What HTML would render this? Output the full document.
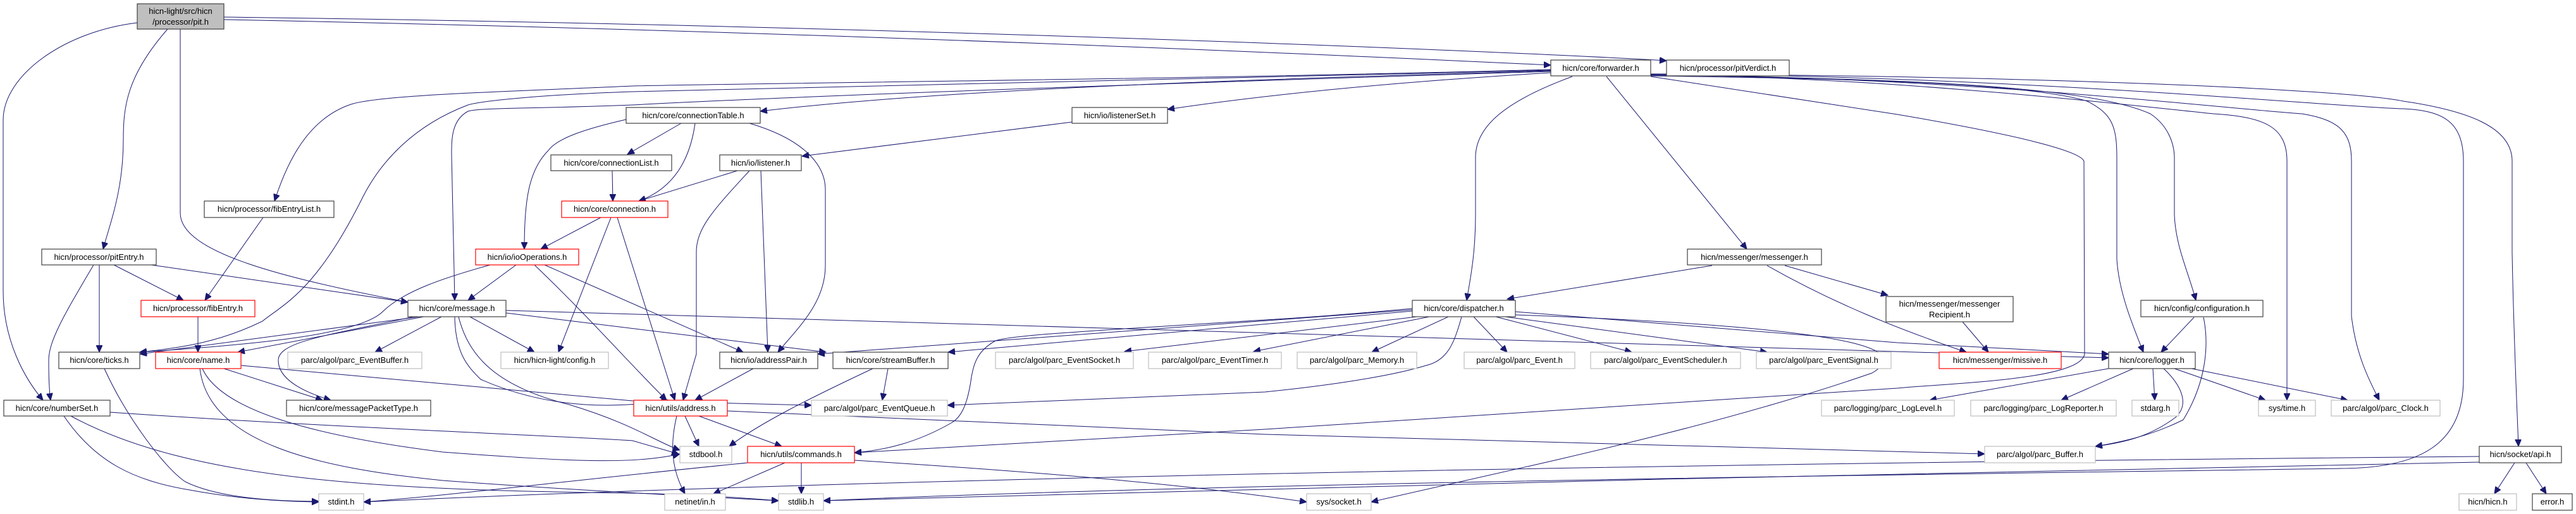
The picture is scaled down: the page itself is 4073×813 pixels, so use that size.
<!DOCTYPE html>
<html><head><meta charset="utf-8"><style>
html,body{margin:0;padding:0;background:#fff;}
svg{display:block;}
text{font-family:"Liberation Sans","DejaVu Sans",sans-serif;font-size:13px;fill:#000;}
.b{fill:#fff;stroke:#404040;stroke-width:1.2;}
.r{fill:#fff;stroke:#ff0000;stroke-width:1.2;}
.g{fill:#fff;stroke:#bfbfbf;stroke-width:1.2;}
.p{fill:#bfbfbf;stroke:#404040;stroke-width:1.2;}
path{fill:none;stroke:#191970;stroke-width:1;}
</style></head><body>
<svg width="4073" height="813" viewBox="0 0 4073 813" xmlns="http://www.w3.org/2000/svg">
<defs><marker id="a" markerUnits="userSpaceOnUse" markerWidth="12" markerHeight="10" refX="11" refY="5" orient="auto"><path d="M0,0 L11,5 L0,10 Z" style="fill:#191970;stroke:#191970"/></marker></defs>
<g marker-end="url(#a)">
<!-- pit.h -->
<path d="M354,27 C1400,40 2400,82 2635,96"/>
<path d="M354,31 C1400,52 2300,96 2452,103"/>
<path d="M265,46 C200,120 195,170 195,220 C195,300 175,350 163,394"/>
<path d="M285,46 L285,337 C285,400 450,440 645,478"/>
<path d="M217,36 C100,50 5,120 5,190 L5,460 C5,540 40,600 68,633"/>
<!-- forwarder -->
<path d="M2452,112 C2000,125 1500,140 1202,176"/>
<path d="M2452,115 C2200,130 2000,150 1846,173"/>
<path d="M2452,110 C1900,125 1300,130 1000,136 C800,145 600,150 555,165 C480,190 450,270 434,318"/>
<path d="M2452,111 C1900,125 1300,135 1000,145 C850,150 760,160 740,166 C650,200 600,260 574,311 C500,460 450,480 415,508 C350,540 290,550 221,557"/>
<path d="M2452,113 C1900,130 1300,150 1000,166 C850,172 760,170 740,176 C714,190 714,220 714,244 L719,475"/>
<path d="M2486,121 C2380,160 2333,200 2333,249 L2333,340 C2333,400 2325,440 2319,475"/>
<path d="M2540,121 L2762,394"/>
<path d="M2610,120 C2900,124 3200,130 3300,160 C3340,180 3347,200 3347,250 L3347,410 C3350,460 3370,510 3389,557"/>
<path d="M2610,119 C3000,124 3300,135 3400,180 C3430,200 3438,230 3438,250 L3438,340 C3440,390 3460,430 3472,475"/>
<path d="M2610,118 C3000,122 3400,170 3500,180 C3580,185 3616,200 3616,255 L3616,633"/>
<path d="M2610,118 C3100,122 3500,170 3640,180 C3700,190 3718,210 3718,255 L3718,500 C3725,560 3745,600 3762,633"/>
<path d="M2610,117 C3200,120 3700,140 3800,160 C3900,175 3972,200 3972,255 L3972,400 C3975,550 3980,650 3982,706"/>
<path d="M2610,117 C3200,120 3700,170 3800,172 C3860,175 3895,190 3895,255 L3895,600 C3895,700 3830,741 3700,741 C3500,745 2000,760 1302,792"/>
<path d="M2610,121 L3000,181 C3200,215 3290,240 3295,255 L3296,560 C3290,600 3100,605 3000,614 L2000,679 L1351,716"/>
<!-- dispatcher -->
<path d="M2233,490 L1293,560"/>
<path d="M2233,492 L1499,557"/>
<path d="M2240,501 L1778,556"/>
<path d="M2260,501 L1982,556"/>
<path d="M2290,501 L2169,557"/>
<path d="M2330,501 L2383,557"/>
<path d="M2365,501 L2580,557"/>
<path d="M2380,501 L2794,557"/>
<path d="M2311,501 C2300,540 2290,570 2255,578 C2200,595 2100,610 2000,620 L1498,641"/>
<path d="M2233,488 C2100,500 2050,503 2000,506 C1700,525 1600,530 1574,539 C1545,555 1540,575 1536,596 C1530,640 1520,660 1504,669 C1450,700 1400,712 1351,716"/>
<path d="M2396,493 L3000,542 L3334,560"/>
<path d="M2396,498 C3000,520 3010,560 2960,590 C2700,680 2400,740 2168,794"/>
<!-- messenger -->
<path d="M2707,420 L2383,473"/>
<path d="M2822,420 L2985,467"/>
<path d="M2794,420 C2900,480 3000,520 3109,557"/>
<path d="M3103,509 L3144,557"/>
<path d="M3469,502 L3417,557"/>
<path d="M3484,502 C3492,540 3491,600 3452,664 C3400,690 3350,700 3313,706"/>
<path d="M3334,583 L3051,633"/>
<path d="M3373,583 L3259,633"/>
<path d="M3404,583 L3407,633"/>
<path d="M3438,583 L3582,633"/>
<path d="M3465,583 L3712,633"/>
<path d="M3421,583 C3450,610 3462,640 3440,660 C3400,690 3360,700 3313,706"/>
<path d="M3976,732 L3944,781"/>
<path d="M3994,732 L4026,781"/>
<path d="M3920,722 C3000,730 1500,750 575,794"/>
<path d="M3920,731 C3200,745 2000,770 1302,792"/>
<!-- left side -->
<path d="M180,419 L290,475"/>
<path d="M239,419 L645,478"/>
<path d="M157,419 L157,557"/>
<path d="M148,419 C100,500 77,540 77,570 C77,600 78,620 80,633"/>
<path d="M416,344 L324,475"/>
<path d="M313,501 L313,557"/>
<path d="M165,583 C200,660 260,740 293,762 C350,790 450,793 504,793"/>
<path d="M101,658 C150,730 210,760 300,775 C380,790 450,793 504,794"/>
<path d="M174,652 C500,675 900,690 1000,697 L1073,718"/>
<path d="M112,658 C300,760 600,775 1000,780 C1100,782 1180,788 1231,792"/>
<path d="M354,583 L510,633"/>
<path d="M381,578 L1000,634 L1283,641"/>
<path d="M320,583 C350,650 500,690 700,715 C900,730 1000,735 1075,718"/>
<path d="M316,583 C330,700 500,740 700,760 C900,775 1100,785 1231,792"/>
<path d="M663,501 L221,560"/>
<path d="M670,501 L376,557"/>
<path d="M698,501 L593,557"/>
<path d="M743,501 L845,557"/>
<path d="M654,501 C520,530 440,540 440,570 C440,600 480,620 523,633"/>
<path d="M719,501 C720,560 740,580 760,600 C850,640 950,650 1057,633"/>
<path d="M725,501 C740,560 780,610 900,640 C1000,670 1040,700 1075,712"/>
<path d="M800,491 L3334,566"/>
<path d="M800,495 L1306,557"/>
<path d="M816,419 L740,475"/>
<path d="M775,419 C700,440 640,460 606,492 C570,530 400,545 221,557"/>
<path d="M861,419 L1175,557"/>
<path d="M845,419 C930,500 1000,580 1054,633"/>
<path d="M950,344 L855,394"/>
<path d="M966,344 L883,557"/>
<path d="M976,344 L1067,633"/>
<path d="M968,270 L969,318"/>
<path d="M1077,195 L992,244"/>
<path d="M1099,195 C1090,260 1060,300 1010,318"/>
<path d="M1185,195 C1270,220 1305,260 1305,300 L1305,420 C1305,480 1260,520 1230,557"/>
<path d="M990,189 C920,205 880,220 867,238 C835,270 829,320 829,394"/>
<path d="M1695,193 L1268,247"/>
<path d="M1166,270 L1010,318"/>
<path d="M1185,270 C1130,330 1101,360 1101,399 L1101,560 L1080,633"/>
<path d="M1203,270 L1214,557"/>
<path d="M1191,583 L1099,633"/>
<path d="M1404,583 L1395,633"/>
<path d="M1380,583 C1280,630 1200,670 1153,706"/>
<path d="M1083,658 L1105,706"/>
<path d="M1105,658 L1236,706"/>
<path d="M1070,658 C1060,700 1060,740 1083,781"/>
<path d="M1267,732 L1267,781"/>
<path d="M1241,732 L1128,781"/>
<path d="M1182,732 C900,760 700,785 575,794"/>
<path d="M1351,728 C1700,750 1900,770 2066,794"/>
<path d="M1150,650 L2000,687 L3138,718"/>
</g>
<!-- nodes -->
<rect class="p" x="217" y="6" width="137" height="40"/><text x="285.5" y="22" text-anchor="middle">hicn-light/src/hicn</text><text x="285.5" y="39" text-anchor="middle">/processor/pit.h</text>
<rect class="b" x="2452" y="95" width="158" height="25"/><text x="2531" y="112" text-anchor="middle">hicn/core/forwarder.h</text>
<rect class="b" x="2635" y="95" width="194" height="25"/><text x="2732" y="112" text-anchor="middle">hicn/processor/pitVerdict.h</text>
<rect class="b" x="990" y="170" width="212" height="25"/><text x="1096" y="187" text-anchor="middle">hicn/core/connectionTable.h</text>
<rect class="b" x="1695" y="170" width="151" height="25"/><text x="1770.5" y="187" text-anchor="middle">hicn/io/listenerSet.h</text>
<rect class="b" x="871" y="245" width="191" height="25"/><text x="966.5" y="262" text-anchor="middle">hicn/core/connectionList.h</text>
<rect class="b" x="1138" y="245" width="129" height="25"/><text x="1202.5" y="262" text-anchor="middle">hicn/io/listener.h</text>
<rect class="b" x="323" y="318" width="205" height="26"/><text x="425.5" y="335" text-anchor="middle">hicn/processor/fibEntryList.h</text>
<rect class="r" x="888" y="318" width="168" height="26"/><text x="972" y="335" text-anchor="middle">hicn/core/connection.h</text>
<rect class="b" x="66" y="394" width="181" height="25"/><text x="156.5" y="411" text-anchor="middle">hicn/processor/pitEntry.h</text>
<rect class="r" x="752" y="394" width="163" height="25"/><text x="833.5" y="411" text-anchor="middle">hicn/io/ioOperations.h</text>
<rect class="b" x="2668" y="394" width="212" height="25"/><text x="2774" y="411" text-anchor="middle">hicn/messenger/messenger.h</text>
<rect class="r" x="223" y="475" width="180" height="26"/><text x="313" y="492" text-anchor="middle">hicn/processor/fibEntry.h</text>
<rect class="b" x="645" y="475" width="155" height="26"/><text x="722.5" y="492" text-anchor="middle">hicn/core/message.h</text>
<rect class="b" x="2233" y="475" width="163" height="26"/><text x="2314.5" y="492" text-anchor="middle">hicn/core/dispatcher.h</text>
<rect class="b" x="2982" y="469" width="201" height="40"/><text x="3082.5" y="485" text-anchor="middle">hicn/messenger/messenger</text><text x="3082.5" y="502" text-anchor="middle">Recipient.h</text>
<rect class="b" x="3385" y="475" width="193" height="26"/><text x="3481.5" y="492" text-anchor="middle">hicn/config/configuration.h</text>
<rect class="b" x="93" y="557" width="128" height="26"/><text x="157" y="574" text-anchor="middle">hicn/core/ticks.h</text>
<rect class="r" x="246" y="557" width="135" height="26"/><text x="313.5" y="574" text-anchor="middle">hicn/core/name.h</text>
<rect class="g" x="455" y="557" width="212" height="26"/><text x="561" y="574" text-anchor="middle">parc/algol/parc_EventBuffer.h</text>
<rect class="g" x="792" y="557" width="170" height="26"/><text x="877" y="574" text-anchor="middle">hicn/hicn-light/config.h</text>
<rect class="b" x="1138" y="557" width="155" height="26"/><text x="1215.5" y="574" text-anchor="middle">hicn/io/addressPair.h</text>
<rect class="b" x="1317" y="557" width="182" height="26"/><text x="1408" y="574" text-anchor="middle">hicn/core/streamBuffer.h</text>
<rect class="g" x="1574" y="557" width="218" height="26"/><text x="1683" y="574" text-anchor="middle">parc/algol/parc_EventSocket.h</text>
<rect class="g" x="1816" y="557" width="210" height="26"/><text x="1921" y="574" text-anchor="middle">parc/algol/parc_EventTimer.h</text>
<rect class="g" x="2051" y="557" width="189" height="26"/><text x="2145.5" y="574" text-anchor="middle">parc/algol/parc_Memory.h</text>
<rect class="g" x="2315" y="557" width="175" height="26"/><text x="2402.5" y="574" text-anchor="middle">parc/algol/parc_Event.h</text>
<rect class="g" x="2515" y="557" width="237" height="26"/><text x="2633.5" y="574" text-anchor="middle">parc/algol/parc_EventScheduler.h</text>
<rect class="g" x="2777" y="557" width="213" height="26"/><text x="2883.5" y="574" text-anchor="middle">parc/algol/parc_EventSignal.h</text>
<rect class="r" x="3066" y="557" width="193" height="26"/><text x="3162.5" y="574" text-anchor="middle">hicn/messenger/missive.h</text>
<rect class="b" x="3334" y="557" width="137" height="26"/><text x="3402.5" y="574" text-anchor="middle">hicn/core/logger.h</text>
<rect class="b" x="6" y="633" width="168" height="25"/><text x="90" y="650" text-anchor="middle">hicn/core/numberSet.h</text>
<rect class="b" x="453" y="633" width="228" height="25"/><text x="567" y="650" text-anchor="middle">hicn/core/messagePacketType.h</text>
<rect class="r" x="1002" y="633" width="148" height="25"/><text x="1076" y="650" text-anchor="middle">hicn/utils/address.h</text>
<rect class="g" x="1283" y="633" width="215" height="25"/><text x="1390.5" y="650" text-anchor="middle">parc/algol/parc_EventQueue.h</text>
<rect class="g" x="2880" y="633" width="210" height="25"/><text x="2985" y="650" text-anchor="middle">parc/logging/parc_LogLevel.h</text>
<rect class="g" x="3116" y="633" width="230" height="25"/><text x="3231" y="650" text-anchor="middle">parc/logging/parc_LogReporter.h</text>
<rect class="g" x="3371" y="633" width="74" height="25"/><text x="3408" y="650" text-anchor="middle">stdarg.h</text>
<rect class="g" x="3571" y="633" width="90" height="25"/><text x="3616" y="650" text-anchor="middle">sys/time.h</text>
<rect class="g" x="3686" y="633" width="172" height="25"/><text x="3772" y="650" text-anchor="middle">parc/algol/parc_Clock.h</text>
<rect class="g" x="1075" y="706" width="82" height="26"/><text x="1116" y="723" text-anchor="middle">stdbool.h</text>
<rect class="r" x="1182" y="706" width="169" height="26"/><text x="1266.5" y="723" text-anchor="middle">hicn/utils/commands.h</text>
<rect class="g" x="3138" y="706" width="175" height="26"/><text x="3225.5" y="723" text-anchor="middle">parc/algol/parc_Buffer.h</text>
<rect class="b" x="3920" y="706" width="130" height="26"/><text x="3985" y="723" text-anchor="middle">hicn/socket/api.h</text>
<rect class="g" x="504" y="781" width="71" height="26"/><text x="539.5" y="798" text-anchor="middle">stdint.h</text>
<rect class="g" x="1051" y="781" width="96" height="26"/><text x="1099" y="798" text-anchor="middle">netinet/in.h</text>
<rect class="g" x="1231" y="781" width="71" height="26"/><text x="1266.5" y="798" text-anchor="middle">stdlib.h</text>
<rect class="g" x="2066" y="781" width="102" height="26"/><text x="2117" y="798" text-anchor="middle">sys/socket.h</text>
<rect class="g" x="3888" y="781" width="91" height="26"/><text x="3933.5" y="798" text-anchor="middle">hicn/hicn.h</text>
<rect class="b" x="4004" y="781" width="63" height="26"/><text x="4035.5" y="798" text-anchor="middle">error.h</text>
</svg>
</body></html>
